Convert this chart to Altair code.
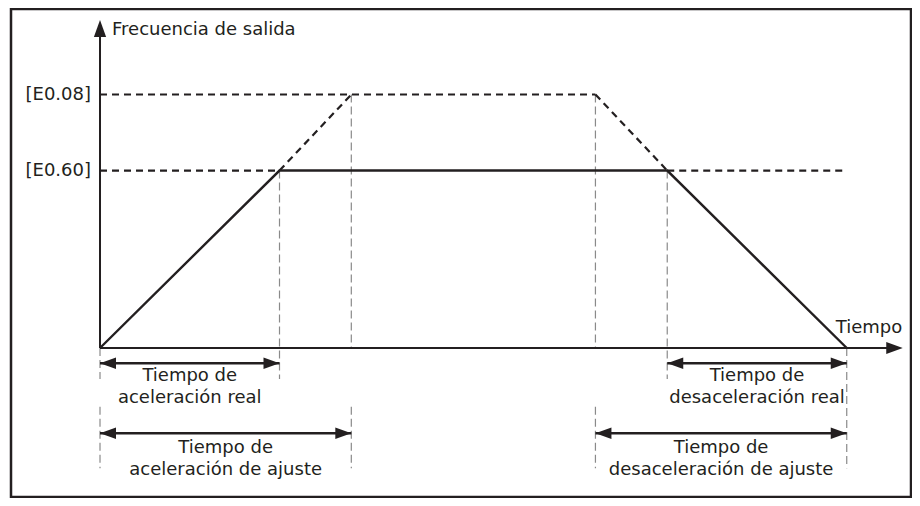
import altair as alt
import pandas as pd

# ---- conceptual values of the diagram (time units, frequency units) ----
T_ACC_REAL = 2.5    # end of actual acceleration
T_ACC_SET = 3.5     # end of set acceleration
T_DEC_SET = 6.9     # start of set deceleration
T_DEC_REAL = 7.9    # start of actual deceleration
T_END = 10.4        # end of deceleration
F_E060 = 35         # [E0.60]
F_E008 = 50         # [E0.08]

# lanes below the time axis (frequency units)
LANE_ARROW_1 = -3.0
LANE_ARROW_2 = -16.8
LANE_1_BOTTOM = -6.1
LANE_2_TOP = -11.6
LANE_2_BOTTOM = -23.7
TEXT_1A, TEXT_1B = -6.5, -10.85
TEXT_2A, TEXT_2B = -20.7, -25.05

AXIS_Y_TIP = 64.7
AXIS_X_TIP = 11.18

INK = "#231f20"
GUIDE = "#8a8a8a"
FONT = "DejaVu Sans"
FS = 18

# actual output-frequency profile (solid)
profile_t = [0, T_ACC_REAL, T_DEC_REAL, T_END]
profile_f = [0, F_E060, F_E060, 0]

# set profile / level lines (black dashed)
set_t1 = [0, 0, T_ACC_REAL, T_DEC_SET, T_DEC_REAL]
set_f1 = [F_E008, F_E060, F_E060, F_E008, F_E060]
set_t2 = [T_DEC_SET, T_ACC_REAL, T_ACC_SET, T_DEC_REAL, T_END]
set_f2 = [F_E008, F_E060, F_E008, F_E060, F_E060]

# grey dashed guides
guide_t = [T_ACC_REAL, T_ACC_SET, T_DEC_SET, T_DEC_REAL, 0, 0, T_ACC_SET, T_DEC_SET, T_END]
guide_top = [F_E060, F_E008, F_E008, F_E060, 0, LANE_2_TOP, LANE_2_TOP, LANE_2_TOP, 0]
guide_bot = [LANE_1_BOTTOM, 0, 0, LANE_1_BOTTOM, LANE_1_BOTTOM, LANE_2_BOTTOM,
             LANE_2_BOTTOM, LANE_2_BOTTOM, LANE_2_BOTTOM]

# interval arrows
arrow_start = [0, T_DEC_REAL, 0, T_DEC_SET]
arrow_end = [T_ACC_REAL, T_END, T_ACC_SET, T_END]
arrow_lane = [LANE_ARROW_1, LANE_ARROW_1, LANE_ARROW_2, LANE_ARROW_2]

# interval labels
label_lines = [
    ("Tiempo de", "aceleración real"),
    ("Tiempo de", "desaceleración real"),
    ("Tiempo de", "aceleración de ajuste"),
    ("Tiempo de", "desaceleración de ajuste"),
]
label_rows = [(TEXT_1A, TEXT_1B), (TEXT_1A, TEXT_1B), (TEXT_2A, TEXT_2B), (TEXT_2A, TEXT_2B)]

level_text = ["[E0.08]", "[E0.60]"]
level_f = [F_E008, F_E060]

# ---- scales ----
xs = alt.Scale(domain=[-1.2396, 11.295], nice=False, zero=False)
ys = alt.Scale(domain=[-29.389, 66.864], nice=False, zero=False)


def X(f="t"):
    return alt.X(f"{f}:Q", scale=xs, axis=None)


def Y(f="f"):
    return alt.Y(f"{f}:Q", scale=ys, axis=None)


profile_df = pd.DataFrame({"t": profile_t, "f": profile_f, "o": range(len(profile_t))})
set_df = pd.DataFrame({"t": set_t1, "f": set_f1, "t2": set_t2, "f2": set_f2})
guide_df = pd.DataFrame({"t": guide_t, "f": guide_top, "f2": guide_bot})
shaft_df = pd.DataFrame({"t": arrow_start, "t2": arrow_end, "f": arrow_lane})
head_l_df = pd.DataFrame({"t": arrow_start, "f": arrow_lane})
head_r_df = pd.DataFrame({"t": arrow_end, "f": arrow_lane})

lab_rows = []
for (l1, l2), (r1, r2), a, b in zip(label_lines, label_rows, arrow_start, arrow_end):
    c = (a + b) / 2
    lab_rows.append({"t": c, "f": r1, "text": l1})
    lab_rows.append({"t": c, "f": r2, "text": l2})
lab_df = pd.DataFrame(lab_rows)
level_df = pd.DataFrame({"t": [0, 0], "f": level_f, "text": level_text})

RIGHT = "M0,0L-1,-0.36L-1,0.36Z"
LEFT = "M0,0L1,-0.36L1,0.36Z"
UP = "M0,0L-0.36,1L0.36,1Z"

guides = alt.Chart(guide_df).mark_rule(color=GUIDE, strokeWidth=1.2, strokeDash=[8, 4]).encode(
    x=X(), y=Y(), y2="f2:Q")

set_lines = alt.Chart(set_df).mark_rule(color=INK, strokeWidth=2.2, strokeDash=[7, 5]).encode(
    x=X(), y=Y(), x2="t2:Q", y2="f2:Q")

profile = alt.Chart(profile_df).mark_line(color=INK, strokeWidth=2.4).encode(
    x=X(), y=Y(), order="o:Q")

y_axis = alt.Chart(pd.DataFrame({"t": [0], "f": [0], "f2": [AXIS_Y_TIP - 2.5]})).mark_rule(
    color=INK, strokeWidth=2).encode(x=X(), y=Y(), y2="f2:Q")
x_axis = alt.Chart(pd.DataFrame({"t": [0], "t2": [AXIS_X_TIP - 0.15], "f": [0]})).mark_rule(
    color=INK, strokeWidth=2).encode(x=X(), x2="t2:Q", y=Y())
y_head = alt.Chart(pd.DataFrame({"t": [0], "f": [AXIS_Y_TIP]})).mark_point(
    shape=UP, size=1156, filled=True, color=INK, opacity=1).encode(x=X(), y=Y())
x_head = alt.Chart(pd.DataFrame({"t": [AXIS_X_TIP], "f": [0]})).mark_point(
    shape=RIGHT, size=1089, filled=True, color=INK, opacity=1).encode(x=X(), y=Y())

shafts = alt.Chart(shaft_df).mark_rule(color=INK, strokeWidth=2.5).encode(
    x=X(), x2="t2:Q", y=Y())
heads_l = alt.Chart(head_l_df).mark_point(
    shape=LEFT, size=1024, filled=True, color=INK, opacity=1).encode(x=X(), y=Y())
heads_r = alt.Chart(head_r_df).mark_point(
    shape=RIGHT, size=1024, filled=True, color=INK, opacity=1).encode(x=X(), y=Y())

labels = alt.Chart(lab_df).mark_text(
    font=FONT, fontSize=FS, color=INK, align="center", baseline="alphabetic").encode(
    x=X(), y=Y(), text="text:N")

levels = alt.Chart(level_df).mark_text(
    font=FONT, fontSize=FS, color=INK, align="right", baseline="middle", dx=-9).encode(
    x=X(), y=Y(), text="text:N")

y_title = alt.Chart(pd.DataFrame({"t": [0], "f": [AXIS_Y_TIP], "text": ["Frecuencia de salida"]})).mark_text(
    font=FONT, fontSize=FS, color=INK, align="left", baseline="middle", dx=12, dy=10).encode(
    x=X(), y=Y(), text="text:N")

x_title = alt.Chart(pd.DataFrame({"t": [T_END], "f": [0], "text": ["Tiempo"]})).mark_text(
    font=FONT, fontSize=FS, color=INK, align="left", baseline="alphabetic", dx=-11, dy=-15).encode(
    x=X(), y=Y(), text="text:N")

chart = alt.layer(
    guides, set_lines, profile, y_axis, x_axis, y_head, x_head,
    shafts, heads_l, heads_r, labels, levels, y_title, x_title,
).properties(
    width=900, height=488,
    autosize=alt.AutoSizeParams(type="none"),
    padding={"left": 3, "top": 1, "right": 1, "bottom": 1},
    background="white",
).configure_view(stroke=INK, strokeWidth=2.5)

chart.save("out.html", embed_options={"renderer": "svg", "actions": False})
